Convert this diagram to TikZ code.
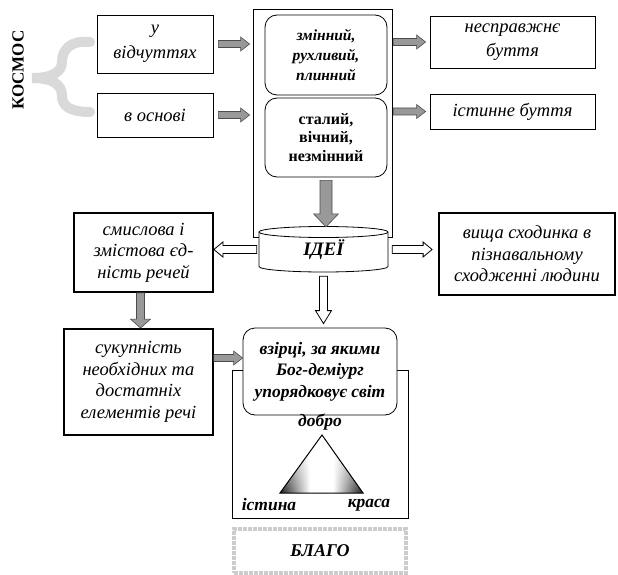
\documentclass[tikz,border=0pt]{standalone}
\usepackage{fontspec}
\setmainfont{Liberation Serif}
\usetikzlibrary{calc,fadings}
\tikzfading[name=topfade, top color=transparent!0, middle color=transparent!80, bottom color=transparent!100]
\pgfdeclarehorizontalshading{trishade}{100bp}{color(0bp)=(black!90); color(25bp)=(black!90); color(43bp)=(white); color(57bp)=(white); color(75bp)=(black!90); color(100bp)=(black!90)}
\begin{document}
\begin{tikzpicture}[x=1pt,y=-1pt,
  txt/.style={font=\fontsize{18.5}{21.5}\selectfont\itshape},
  box/.style={draw, line width=0.8pt, align=center, inner sep=0pt, txt},
  tbox/.style={box, line width=1.8pt},
  rbox/.style={draw, line width=0.8pt, rounded corners=12pt, align=center, inner sep=0pt, fill=white},
  bi/.style={font=\fontsize{17.5}{21.5}\selectfont\bfseries\itshape},
  garrow/.style={draw=black!70, fill=black!40, line width=0.6pt},
  warrow/.style={draw=black, fill=white, line width=0.8pt},
  blkR/.style n args={3}{to path={let \p1=(\tikztostart),\p2=(\tikztotarget) in
     (\x1,{\y1+#1}) -- ({\x2-#3},{\y1+#1}) -- ({\x2-#3},{\y1+#2}) -- (\x2,\y1) --
     ({\x2-#3},{\y1-#2}) -- ({\x2-#3},{\y1-#1}) -- (\x1,{\y1-#1}) -- cycle}},
  blkL/.style n args={3}{to path={let \p1=(\tikztostart),\p2=(\tikztotarget) in
     (\x1,{\y1+#1}) -- ({\x2+#3},{\y1+#1}) -- ({\x2+#3},{\y1+#2}) -- (\x2,\y1) --
     ({\x2+#3},{\y1-#2}) -- ({\x2+#3},{\y1-#1}) -- (\x1,{\y1-#1}) -- cycle}},
  blkD/.style n args={3}{to path={let \p1=(\tikztostart),\p2=(\tikztotarget) in
     ({\x1-#1},\y1) -- ({\x1-#1},{\y2+#3}) -- ({\x1-#2},{\y2+#3}) -- (\x1,\y2) --
     ({\x1+#2},{\y2+#3}) -- ({\x1+#1},{\y2+#3}) -- ({\x1+#1},\y1) -- cycle}},
]
\useasboundingbox[fill=white] (0,0) rectangle (618,575);

% KOSMOS and brace
\node[rotate=90, font=\fontsize{17}{17}\selectfont\bfseries] (kosmos) at (18,70) {КОСМОС};
\draw[gray!30, line width=10pt, line cap=round]
  (90,42) .. controls (70,40) and (62,50) .. (62,62)
  .. controls (62,72) and (52,78) .. (32,78)
  .. controls (52,78) and (62,84) .. (62,96)
  .. controls (62,106) and (70,112) .. (90,112);

% left boxes
\node[box, minimum width=116pt, minimum height=58pt] (vidch) at (155,44) {у\\[4pt]відчуттях};
\node[box, minimum width=116pt, minimum height=44pt] (osnovi) at (155,115) {в основі};

% big box
\node[draw, line width=0.8pt, minimum width=139pt, minimum height=228pt, inner sep=0pt] (big) at (322.5,123) {};
\node[rbox, minimum width=122pt, minimum height=80pt, font=\fontsize{15.5}{20}\selectfont\bfseries\itshape] (r1) at (326,55) {змінний,\\рухливий,\\плинний};
\node[rbox, minimum width=122pt, minimum height=79pt, font=\fontsize{16}{18.5}\selectfont\bfseries] (r2) at (326,137.5) {сталий,\\вічний,\\незмінний};

% right boxes
\node[box, minimum width=165pt, minimum height=52pt] (nespr) at (512.5,42) {несправжнє\\[3pt]буття};
\node[box, minimum width=165pt, minimum height=35pt] (istyn) at (512.5,111.5) {істинне буття};

% cylinder
\filldraw[fill=white, line width=0.8pt] (259,232) -- (259,266.5)
  arc[start angle=180, end angle=360, x radius=64.5pt, y radius=5.5pt] -- (388,232)
  arc[start angle=0, end angle=180, x radius=64.5pt, y radius=5.5pt] -- cycle;
\draw[line width=0.8pt] (259,232) arc[start angle=180, end angle=360, x radius=64.5pt, y radius=5.5pt];
\node[minimum width=129pt, minimum height=45pt, inner sep=0pt, font=\fontsize{19}{19}\selectfont\bfseries\itshape] (ide) at (323.5,249.5) {ІДЕЇ};

% middle row boxes
\node[tbox, minimum width=139pt, minimum height=79pt] (smysl) at (143.5,252.5) {смислова і\\змістова єд-\\ність речей};
\node[tbox, minimum width=176pt, minimum height=82pt] (vysh) at (527,254) {вища сходинка в\\пізнавальному\\сходженні людини};
\node[tbox, minimum width=149pt, minimum height=106pt] (sukup) at (138.5,382) {сукупність\\необхідних та\\достатніх\\елементів речі};

% lower frame and patterns box
\node[draw, line width=0.8pt, minimum width=176pt, minimum height=148pt, inner sep=0pt] (lower) at (320,444) {};
\node[rbox, bi, minimum width=154pt, minimum height=87pt] (vz) at (320,371.5) {взірці, за якими\\Бог-деміург\\упорядковує світ};

% triangle
\coordinate (ta) at (322,435);
\coordinate (tl) at (280,493);
\coordinate (tr) at (363,493);
\shade[shading=trishade] (ta) -- (tl) -- (tr) -- cycle;
\fill[white, path fading=topfade] (ta) -- (tl) -- (tr) -- cycle;
\draw[line width=1pt, line join=miter] (ta) -- (tl) -- (tr) -- cycle;
\node[bi] (dobro) at (320,422) {добро};
\node[bi] (istyna) at (269,505) {істина};
\node[bi] (krasa) at (369,505) {краса};

% blago
\node[draw=gray!40, line width=4pt, densely dotted, minimum width=172pt, minimum height=44pt, font=\fontsize{18}{18}\selectfont\bfseries\itshape] (blago) at (320,551) {БЛАГО};

% arrows
\draw[garrow] ([xshift=5pt]vidch.east) to[blkR={3.5pt}{7pt}{9pt}] ([xshift=-3pt]big.west);
\draw[garrow] ([xshift=5pt]osnovi.east) to[blkR={3.5pt}{7pt}{9pt}] ([xshift=-3pt]big.west);
\draw[garrow] ([xshift=1pt]big.east |- nespr.west) to[blkR={3.5pt}{7pt}{9pt}] ([xshift=-4pt]nespr.west);
\draw[garrow] ([xshift=1pt]big.east |- istyn.west) to[blkR={3.5pt}{7pt}{9pt}] ([xshift=-4pt]istyn.west);
\draw[garrow] ([yshift=-3pt]r2.south) to[blkD={6pt}{12.5pt}{13pt}] (ide.north);
\draw[warrow] ([xshift=-2pt]ide.west) to[blkL={4pt}{7.5pt}{9pt}] (smysl.east);
\draw[warrow] ([xshift=4pt]ide.east) to[blkR={4pt}{7.5pt}{9pt}] ([xshift=-6pt]vysh.west);
\draw[garrow] ([xshift=-3pt]smysl.south) to[blkD={4pt}{10pt}{9pt}] ([xshift=-3pt]smysl.south |- sukup.north);
\draw[garrow] ([yshift=24pt]sukup.east) to[blkR={3.5pt}{7pt}{9pt}] (vz.west);
\draw[warrow] ([yshift=-4pt]ide.south) to[blkD={4pt}{8pt}{13pt}] ([yshift=4pt]vz.north);
\end{tikzpicture}
\end{document}
